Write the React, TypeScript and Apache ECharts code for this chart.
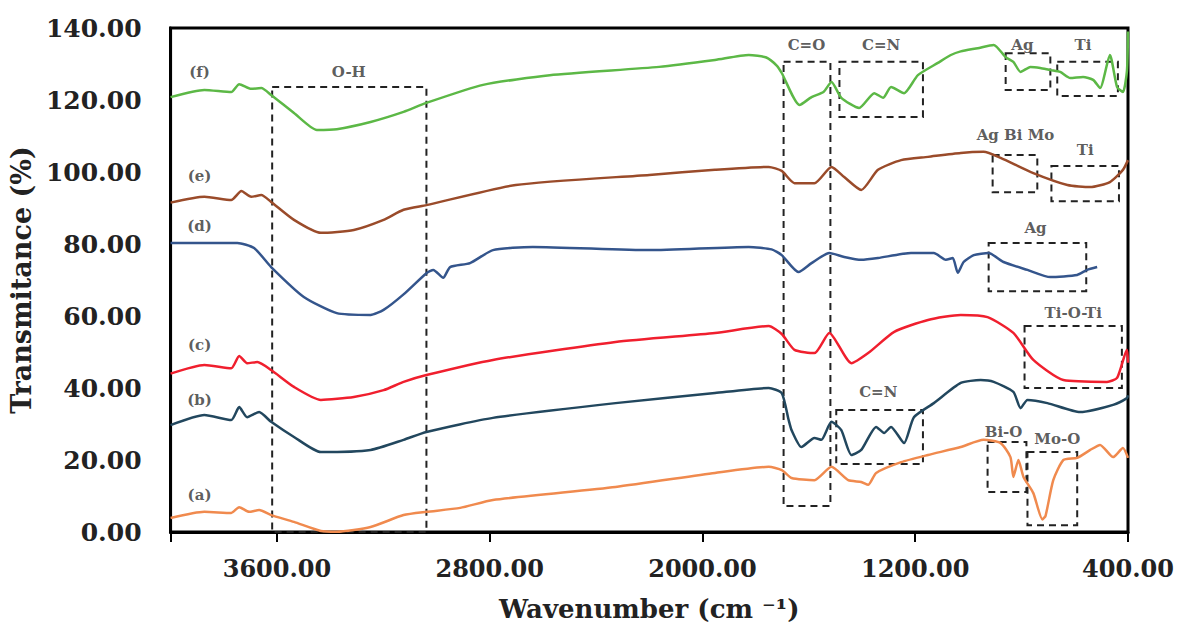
import React, { useEffect, useRef } from "react";
import * as echarts from "echarts";

// ---- Data (wavenumber cm^-1, transmittance %) ----
const wnF = [4000, 3873, 3772, 3742, 3697, 3659, 3622, 3536, 3450, 3375, 3248, 3124, 3038, 2825, 2574, 2163, 1953, 1826, 1760, 1720, 1702, 1635, 1590, 1545, 1515, 1478, 1411, 1354, 1321, 1291, 1242, 1190, 1115, 1066, 1029, 965, 905, 860, 831, 804, 767, 730, 692, 655, 617, 569, 531, 505, 468, 441, 419, 404, 400];
const tF = [120.8, 122.8, 122.2, 124.4, 123.1, 123.3, 121.4, 116.4, 111.7, 111.9, 113.9, 116.7, 119.2, 124.2, 126.9, 129.2, 131.1, 132.5, 131.8, 129.5, 127.5, 118.6, 120.8, 122.2, 125.0, 120.6, 117.8, 121.9, 120.6, 123.6, 121.9, 126.9, 130.3, 132.5, 133.5, 134.4, 135.3, 131.9, 130.6, 127.8, 129.2, 128.9, 128.3, 127.8, 126.1, 126.4, 125.6, 123.3, 132.5, 123.6, 122.2, 128.0, 139.0];

const wnE = [4000, 3873, 3772, 3734, 3697, 3659, 3622, 3536, 3435, 3311, 3199, 3124, 3038, 2702, 2200, 1953, 1751, 1702, 1654, 1579, 1515, 1467, 1403, 1340, 1253, 1152, 1029, 943, 879, 756, 628, 542, 468, 419, 400];
const tE = [91.5, 93.1, 92.2, 94.7, 93.1, 93.6, 91.7, 86.7, 83.1, 83.9, 86.7, 89.5, 90.8, 96.4, 99.2, 100.6, 101.4, 100.3, 96.9, 96.9, 101.4, 98.6, 95.0, 100.6, 103.3, 104.2, 105.3, 105.6, 103.9, 99.7, 96.4, 95.8, 97.2, 100.6, 103.3];

const wnD = [4000, 3749, 3686, 3622, 3499, 3375, 3248, 3199, 3124, 3038, 3012, 2975, 2949, 2874, 2788, 2638, 2200, 1826, 1740, 1702, 1639, 1590, 1523, 1467, 1403, 1340, 1216, 1130, 1085, 1059, 1040, 1018, 980, 924, 868, 778, 692, 591, 554, 516];
const tD = [80.3, 80.3, 78.9, 73.6, 65.3, 60.8, 60.3, 61.7, 66.0, 71.9, 72.8, 70.6, 73.6, 74.7, 78.3, 79.2, 78.3, 79.2, 78.5, 76.9, 72.2, 74.7, 77.5, 76.4, 75.6, 76.1, 77.5, 77.5, 75.6, 76.1, 72.0, 75.0, 76.9, 77.5, 75.0, 72.8, 70.8, 71.4, 72.8, 73.6];

const wnC = [4000, 3873, 3772, 3742, 3712, 3674, 3622, 3536, 3435, 3311, 3199, 3124, 3038, 2788, 2327, 1953, 1751, 1702, 1654, 1579, 1523, 1440, 1377, 1279, 1152, 1029, 928, 831, 756, 643, 479, 441, 404, 400];
const tC = [44.0, 46.4, 45.5, 48.9, 46.9, 47.2, 45.0, 40.3, 36.7, 37.5, 39.4, 41.7, 43.6, 47.8, 52.8, 55.3, 57.2, 55.0, 50.6, 49.7, 55.3, 46.9, 49.7, 55.6, 58.9, 60.3, 59.7, 55.3, 47.8, 42.2, 41.7, 42.8, 50.6, 47.0];

const wnB = [4000, 3873, 3772, 3742, 3712, 3667, 3622, 3536, 3435, 3248, 3124, 3038, 2788, 2327, 1953, 1751, 1702, 1676, 1665, 1628, 1579, 1553, 1515, 1478, 1440, 1403, 1347, 1317, 1291, 1242, 1205, 1130, 1029, 954, 905, 831, 804, 778, 703, 580, 456, 404, 400];
const tB = [29.7, 32.5, 31.1, 34.7, 31.9, 33.3, 30.6, 26.4, 22.2, 22.8, 25.6, 27.8, 31.7, 35.8, 38.6, 40.0, 38.6, 31.1, 28.3, 23.6, 26.1, 25.6, 30.6, 28.3, 21.4, 22.8, 29.2, 27.5, 29.2, 24.7, 31.9, 35.8, 41.4, 42.2, 41.7, 38.9, 34.4, 36.7, 35.8, 33.3, 35.3, 37.2, 38.0];

const wnA = [4000, 3873, 3772, 3742, 3705, 3667, 3622, 3536, 3435, 3375, 3248, 3124, 3038, 2911, 2788, 2327, 1953, 1751, 1702, 1665, 1579, 1515, 1452, 1403, 1377, 1347, 1253, 1152, 1029, 943, 879, 842, 831, 812, 793, 756, 722, 710, 681, 643, 591, 542, 505, 456, 419, 400];
const tA = [3.9, 5.6, 5.3, 6.9, 5.6, 6.1, 4.7, 2.8, 0.3, 0.1, 1.4, 4.7, 5.6, 6.7, 8.9, 12.5, 16.4, 18.1, 17.2, 15.0, 14.4, 18.1, 14.4, 13.9, 13.1, 16.4, 19.4, 21.4, 23.6, 25.6, 24.7, 20.8, 15.3, 20.0, 15.3, 10.8, 3.5, 4.5, 14.4, 20.0, 20.6, 22.8, 24.2, 20.8, 23.3, 20.6];

// curve tags
const curveTags = ["(f)", "(e)", "(d)", "(c)", "(b)", "(a)"];
const curveTagW = [3891, 3891, 3891, 3891, 3891, 3891];
const curveTagT = [127.8, 98.9, 85.0, 52.0, 36.7, 10.3];

// dashed boxes: label, high wn, low wn, bottom T, top T, label wn, label T
const boxLabels = ["O-H", "C=O", "C=N", "Ag", "Ti", "Ag Bi Mo", "Ti", "Ag", "Ti-O-Ti", "C=N", "Bi-O", "Mo-O"];
const boxW1 = [3618, 1695, 1485, 860, 666, 909, 688, 924, 789, 1497, 928, 778];
const boxW2 = [3038, 1519, 1171, 692, 438, 741, 434, 557, 423, 1171, 782, 591];
const boxT1 = [-2, 7.2, 115.3, 122.8, 121.1, 94.4, 91.9, 66.9, 40.0, 18.9, 11.1, 1.9];
const boxT2 = [123.6, 130.6, 130.6, 133.0, 130.6, 104.7, 101.7, 80.3, 57.2, 33.9, 25.0, 22.2];
const boxLabelW = [3330, 1609, 1328, 797, 569, 823, 561, 748, 606, 1339, 868, 666];
const boxLabelT = [127.8, 135.3, 135.3, 135.3, 135.3, 110.3, 106.0, 84.4, 60.8, 38.9, 27.8, 25.8];

const seriesNames = ["(f)", "(e)", "(d)", "(c)", "(b)", "(a)"];
const seriesWn = [wnF, wnE, wnD, wnC, wnB, wnA];
const seriesT = [tF, tE, tD, tC, tB, tA];
const seriesColors = ["#5cb846", "#9a4b2a", "#34558c", "#f01f2e", "#22475e", "#f08a4e"];

const FONT = "'DejaVu Serif', 'Liberation Serif', serif";

export default function App() {
  const ref = useRef<HTMLDivElement>(null);
  useEffect(() => {
    if (!ref.current) return;
    const chart = echarts.init(ref.current, null, { renderer: "svg" });
    const lineSeries = seriesNames.map((n, i) => ({
      name: n,
      type: "line",
      data: seriesWn[i].map((w, j) => [w, seriesT[i][j]]),
      showSymbol: false,
      symbol: "none",
      smooth: 0.2,
      lineStyle: { color: seriesColors[i], width: 2.5 },
      itemStyle: { color: seriesColors[i] },
      z: 2,
    }));
    const annData = [
      ...curveTags.map((t, i) => ({ name: t, value: [curveTagW[i], curveTagT[i]] })),
      ...boxLabels.map((t, i) => ({ name: t, value: [boxLabelW[i], boxLabelT[i]] })),
    ];
    const option = {
      animation: false,
      backgroundColor: "#ffffff",
      grid: { left: 166, right: 51, top: 28, bottom: 100, show: true, borderColor: "#000", borderWidth: 3, backgroundColor: "transparent" },
      xAxis: {
        type: "value",
        inverse: true,
        min: 400,
        max: 4000,
        interval: 800,
        axisLine: { show: true, lineStyle: { color: "#000", width: 3 } },
        axisTick: { show: true, length: 10, lineStyle: { color: "#000", width: 2 } },
        splitLine: { show: false },
        axisLabel: {
          formatter: (v: number) => (v === 4000 ? "" : v.toFixed(2)),
          fontFamily: FONT,
          fontWeight: "bold",
          fontSize: 24,
          color: "#222",
          margin: 24,
        },
        name: "Wavenumber (cm ⁻¹)",
        nameLocation: "middle",
        nameGap: 64,
        nameTextStyle: { fontFamily: FONT, fontWeight: "bold", fontSize: 26, color: "#222" },
      },
      yAxis: {
        type: "value",
        min: 0,
        max: 140,
        interval: 20,
        axisLine: { show: true, lineStyle: { color: "#000", width: 3 } },
        axisTick: { show: false },
        splitLine: { show: false },
        axisLabel: {
          formatter: (v: number) => v.toFixed(2),
          fontFamily: FONT,
          fontWeight: "bold",
          fontSize: 25,
          color: "#222",
          margin: 29,
        },
        name: "Transmitance (%)",
        nameLocation: "middle",
        nameGap: 120,
        nameRotate: 90,
        nameTextStyle: { fontFamily: FONT, fontWeight: "bold", fontSize: 27, color: "#222" },
      },
      series: [
        ...lineSeries,
        {
          name: "annotations",
          type: "scatter",
          data: annData,
          symbolSize: 1,
          itemStyle: { color: "rgba(0,0,0,0)" },
          label: {
            show: true,
            position: "inside",
            formatter: "{b}",
            fontFamily: FONT,
            fontWeight: "bold",
            fontSize: 15,
            color: "#333",
          },
          silent: true,
          z: 5,
          markArea: {
            silent: true,
            itemStyle: { color: "rgba(0,0,0,0)", borderColor: "#222", borderWidth: 2, borderType: [7, 5] },
            label: { show: false },
            data: boxLabels.map((_, i) => [
              { coord: [boxW1[i], boxT2[i]] },
              { coord: [boxW2[i], boxT1[i]] },
            ]),
          },
        },
      ],
    };
    chart.setOption(option as any);
    return () => chart.dispose();
  }, []);
  return <div ref={ref} style={{ position: "absolute", left: 0, top: 0, width: 1179, height: 632, background: "#fff" }} />;
}
